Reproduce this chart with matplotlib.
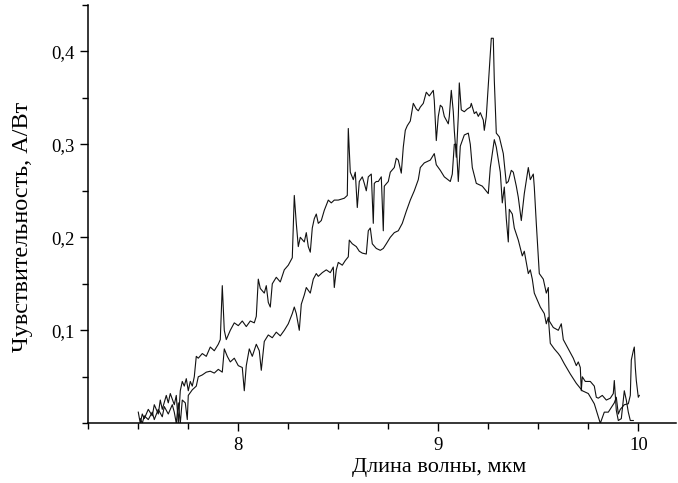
import matplotlib
matplotlib.use("Agg")
import matplotlib.pyplot as plt
from matplotlib.ticker import FixedLocator, FixedFormatter

plt.rcParams['font.family'] = ['Liberation Serif', 'DejaVu Serif']

# Curve 1 (upper in the middle)
wl_1 = [7.50, 7.51, 7.52, 7.53, 7.55, 7.57, 7.58, 7.60, 7.61, 7.62, 7.64, 7.65, 7.66, 7.68, 7.69,
        7.70, 7.71, 7.72, 7.73, 7.74, 7.75, 7.76, 7.77, 7.78, 7.79, 7.80, 7.82, 7.84, 7.86, 7.88,
        7.90, 7.91, 7.92, 7.93, 7.94, 7.96, 7.98, 8.00, 8.02, 8.04, 8.06, 8.08, 8.09, 8.10, 8.11,
        8.13, 8.14, 8.15, 8.16, 8.17, 8.19, 8.21, 8.23, 8.25, 8.27, 8.28, 8.29, 8.30, 8.31, 8.33,
        8.34, 8.35, 8.36, 8.37, 8.38, 8.39, 8.40, 8.415, 8.43, 8.45, 8.465, 8.48, 8.50, 8.53, 8.545,
        8.55, 8.56, 8.575, 8.585, 8.595, 8.605, 8.62, 8.63, 8.64, 8.65, 8.665, 8.675, 8.68, 8.69, 8.70,
        8.715, 8.725, 8.73, 8.75, 8.76, 8.78, 8.79, 8.80, 8.815, 8.825, 8.835, 8.845, 8.86, 8.875, 8.89,
        8.90, 8.91, 8.925, 8.94, 8.955, 8.965, 8.975, 8.98, 8.99, 9.00, 9.01, 9.02, 9.03, 9.05, 9.055,
        9.065, 9.075, 9.08, 9.09, 9.10, 9.105, 9.115, 9.13, 9.145, 9.16, 9.165, 9.18, 9.19, 9.20, 9.21,
        9.225, 9.23, 9.24, 9.255, 9.265, 9.275, 9.28, 9.29, 9.305, 9.325, 9.34, 9.35, 9.365, 9.375, 9.39,
        9.40, 9.415, 9.43, 9.45, 9.46, 9.475, 9.48, 9.49, 9.505, 9.525, 9.54, 9.55, 9.555, 9.575, 9.60,
        9.615, 9.625, 9.65, 9.675, 9.69, 9.70, 9.71, 9.715, 9.72, 9.735, 9.76, 9.78, 9.79, 9.80, 9.82,
        9.84, 9.86, 9.875, 9.88, 9.89, 9.90, 9.915, 9.93, 9.94, 9.95, 9.96, 9.975]
sens_1 = [0.012, 0.0, 0.010, 0.005, 0.015, 0.008, 0.020, 0.010, 0.025, 0.015, 0.030, 0.022, 0.032, 0.020, 0.030,
          0.0, 0.035, 0.045, 0.040, 0.048, 0.035, 0.045, 0.040, 0.050, 0.072, 0.070, 0.075, 0.072, 0.082, 0.078,
          0.085, 0.090, 0.148, 0.100, 0.090, 0.100, 0.108, 0.105, 0.110, 0.104, 0.110, 0.108, 0.115, 0.155, 0.145,
          0.140, 0.148, 0.130, 0.125, 0.150, 0.157, 0.152, 0.165, 0.170, 0.178, 0.245, 0.215, 0.190, 0.200, 0.195,
          0.205, 0.190, 0.184, 0.210, 0.220, 0.225, 0.215, 0.218, 0.229, 0.240, 0.237, 0.240, 0.240, 0.242, 0.245,
          0.317, 0.270, 0.262, 0.270, 0.232, 0.260, 0.265, 0.258, 0.250, 0.265, 0.268, 0.215, 0.258, 0.260, 0.260,
          0.265, 0.207, 0.255, 0.260, 0.270, 0.275, 0.285, 0.283, 0.269, 0.297, 0.315, 0.320, 0.325, 0.344, 0.338,
          0.336, 0.340, 0.344, 0.356, 0.352, 0.355, 0.358, 0.347, 0.304, 0.330, 0.342, 0.340, 0.330, 0.322, 0.330,
          0.358, 0.335, 0.315, 0.286, 0.330, 0.366, 0.337, 0.335, 0.338, 0.340, 0.344, 0.333, 0.335, 0.330, 0.334,
          0.326, 0.315, 0.330, 0.380, 0.414, 0.414, 0.369, 0.312, 0.308, 0.290, 0.258, 0.260, 0.272, 0.270, 0.255,
          0.243, 0.218, 0.247, 0.275, 0.262, 0.268, 0.254, 0.215, 0.161, 0.155, 0.140, 0.146, 0.110, 0.103, 0.100,
          0.107, 0.090, 0.080, 0.070, 0.062, 0.066, 0.060, 0.035, 0.050, 0.045, 0.045, 0.040, 0.028, 0.027, 0.030,
          0.025, 0.027, 0.032, 0.046, 0.014, 0.003, 0.005, 0.035, 0.025, 0.012, 0.003, 0.003]

# Curve 2 (lower in the middle)
wl_2 = [7.51, 7.52, 7.53, 7.55, 7.57, 7.58, 7.60, 7.62, 7.63, 7.65, 7.67, 7.68, 7.69, 7.70, 7.71,
        7.72, 7.735, 7.745, 7.75, 7.77, 7.79, 7.80, 7.82, 7.84, 7.86, 7.88, 7.90, 7.92, 7.93, 7.945,
        7.96, 7.98, 8.00, 8.02, 8.03, 8.04, 8.055, 8.07, 8.09, 8.105, 8.115, 8.13, 8.15, 8.17, 8.19,
        8.21, 8.23, 8.25, 8.27, 8.28, 8.29, 8.305, 8.315, 8.33, 8.34, 8.36, 8.375, 8.39, 8.40, 8.42,
        8.44, 8.46, 8.475, 8.48, 8.49, 8.50, 8.52, 8.535, 8.55, 8.555, 8.57, 8.59, 8.605, 8.62, 8.64,
        8.65, 8.66, 8.67, 8.69, 8.71, 8.725, 8.74, 8.76, 8.78, 8.80, 8.82, 8.84, 8.86, 8.88, 8.90,
        8.91, 8.93, 8.96, 8.98, 8.99, 9.01, 9.03, 9.06, 9.07, 9.08, 9.09, 9.10, 9.11, 9.13, 9.15,
        9.16, 9.17, 9.19, 9.22, 9.25, 9.26, 9.28, 9.29, 9.31, 9.32, 9.33, 9.34, 9.35, 9.355, 9.37,
        9.38, 9.40, 9.42, 9.43, 9.45, 9.46, 9.47, 9.48, 9.49, 9.51, 9.53, 9.54, 9.55, 9.56, 9.58,
        9.60, 9.61, 9.63, 9.66, 9.69, 9.72, 9.75, 9.78, 9.81, 9.83, 9.85, 9.865, 9.88, 9.89, 9.90,
        9.91, 9.93, 9.95, 9.96, 9.965, 9.975, 9.98, 9.985, 9.99, 10.00, 10.005]
sens_2 = [0.005, 0.0, 0.008, 0.004, 0.012, 0.004, 0.015, 0.007, 0.018, 0.010, 0.020, 0.012, 0.0, 0.022, 0.0,
          0.025, 0.022, 0.004, 0.030, 0.036, 0.040, 0.050, 0.052, 0.055, 0.056, 0.054, 0.058, 0.055, 0.080, 0.072,
          0.066, 0.070, 0.062, 0.060, 0.035, 0.062, 0.080, 0.072, 0.085, 0.078, 0.057, 0.088, 0.095, 0.092, 0.098,
          0.094, 0.100, 0.107, 0.118, 0.125, 0.118, 0.100, 0.128, 0.138, 0.146, 0.140, 0.155, 0.161, 0.158, 0.162,
          0.165, 0.162, 0.168, 0.146, 0.165, 0.173, 0.170, 0.175, 0.179, 0.197, 0.193, 0.190, 0.185, 0.183, 0.182,
          0.207, 0.210, 0.193, 0.188, 0.186, 0.188, 0.193, 0.200, 0.205, 0.207, 0.215, 0.228, 0.240, 0.250, 0.262,
          0.275, 0.280, 0.283, 0.290, 0.278, 0.272, 0.265, 0.260, 0.268, 0.300, 0.300, 0.260, 0.298, 0.310, 0.312,
          0.300, 0.275, 0.258, 0.255, 0.247, 0.275, 0.305, 0.297, 0.270, 0.237, 0.254, 0.220, 0.195, 0.230, 0.225,
          0.210, 0.197, 0.180, 0.185, 0.161, 0.165, 0.155, 0.140, 0.135, 0.125, 0.118, 0.107, 0.114, 0.086, 0.080,
          0.075, 0.072, 0.064, 0.053, 0.043, 0.035, 0.032, 0.021, 0.0, 0.012, 0.012, 0.017, 0.022, 0.028, 0.010,
          0.015, 0.020, 0.021, 0.030, 0.068, 0.078, 0.082, 0.060, 0.046, 0.028, 0.030]

y_major = [0.1, 0.2, 0.3, 0.4]
y_major_labels = ['0,1', '0,2', '0,3', '0,4']
y_minor = [0.0, 0.05, 0.15, 0.25, 0.35, 0.45]
x_major = [8, 9, 10]
x_major_labels = ['8', '9', '10']
x_minor = [7.25, 7.5, 7.75, 8.25, 8.5, 8.75, 9.25, 9.5, 9.75]

fig = plt.figure(figsize=(6.78, 4.83), dpi=100)
ax = fig.add_axes([0.1302, 0.1236, 0.8673, 0.8665])

ax.plot(wl_1, sens_1, color='#111111', lw=0.8)
ax.plot(wl_2, sens_2, color='#111111', lw=0.8)

ax.set_xlim(7.25, 10.19)
ax.set_ylim(0, 0.45)

for s in ['top', 'right']:
    ax.spines[s].set_visible(False)
for s in ['left', 'bottom']:
    ax.spines[s].set_linewidth(1.1)
    ax.spines[s].set_color('black')

ax.xaxis.set_major_locator(FixedLocator(x_major))
ax.xaxis.set_major_formatter(FixedFormatter(x_major_labels))
ax.xaxis.set_minor_locator(FixedLocator(x_minor))
ax.yaxis.set_major_locator(FixedLocator(y_major))
ax.yaxis.set_major_formatter(FixedFormatter(y_major_labels))
ax.yaxis.set_minor_locator(FixedLocator(y_minor))

ax.tick_params(which='both', direction='out', width=1.0, colors='black', labelsize=13.5, pad=4)
ax.tick_params(which='major', length=6)
ax.tick_params(which='minor', length=4.5)

ax.set_xlabel('Длина волны, мкм', fontsize=16)
ax.set_ylabel('Чувствительность, А/Вт', fontsize=17.5)
ax.xaxis.set_label_coords(0.597, -0.083)
ax.yaxis.set_label_coords(-0.094, 0.47)

fig.savefig('out.png', dpi=100)
